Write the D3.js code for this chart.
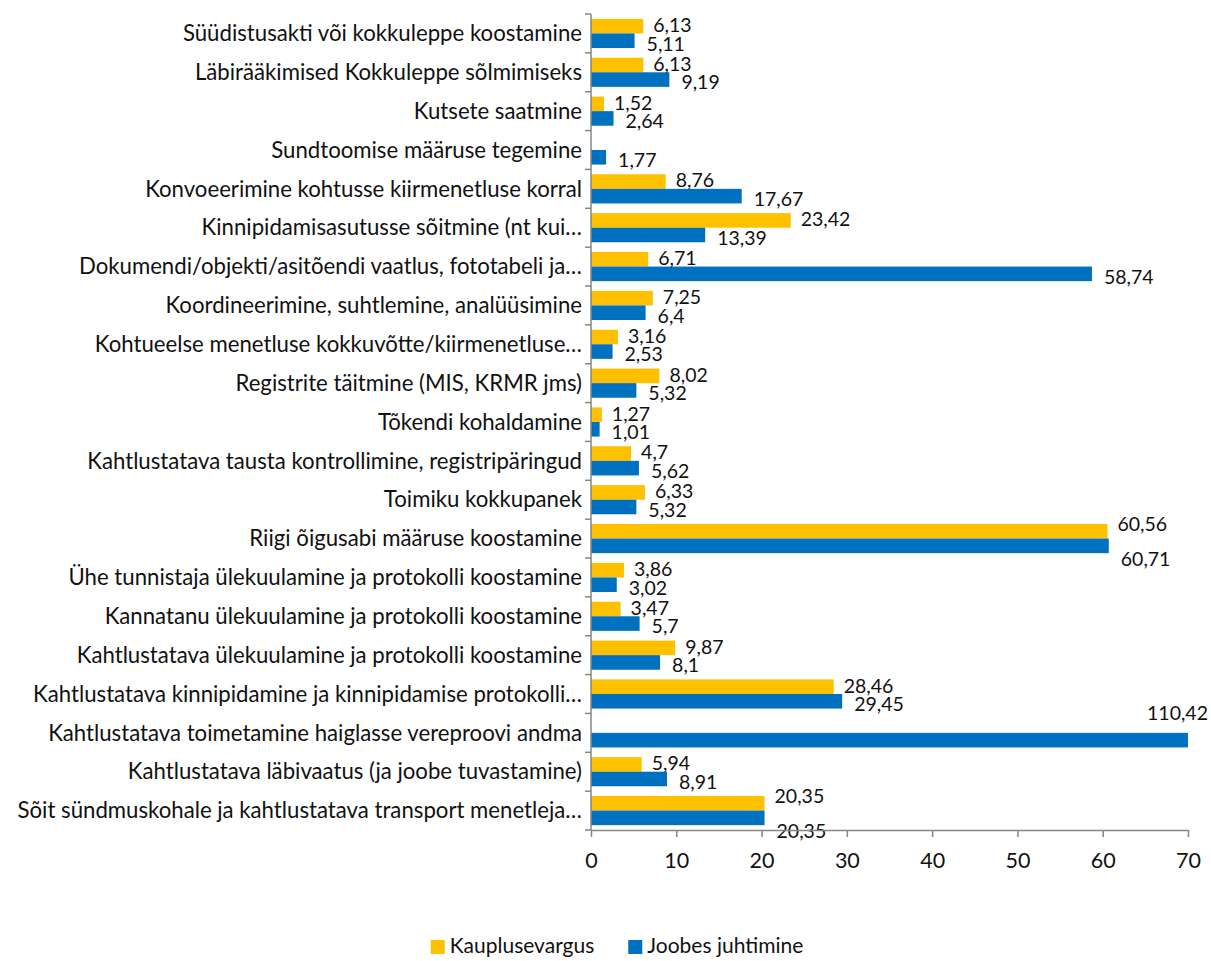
<!DOCTYPE html>
<html>
<head>
<meta charset="utf-8">
<script src="https://cdn.jsdelivr.net/npm/d3@7"></script>
<style>
  body { margin: 0; background: #fff; }
  svg { font-family: "Lato", "Open Sans", sans-serif; }
</style>
</head>
<body>
<div id="chart"></div>
<script>
// categories top to bottom
var categories = [
  "Süüdistusakti või kokkuleppe koostamine",
  "Läbirääkimised Kokkuleppe sõlmimiseks",
  "Kutsete saatmine",
  "Sundtoomise määruse tegemine",
  "Konvoeerimine kohtusse kiirmenetluse korral",
  "Kinnipidamisasutusse sõitmine (nt kui…",
  "Dokumendi/objekti/asitõendi vaatlus, fototabeli ja…",
  "Koordineerimine, suhtlemine, analüüsimine",
  "Kohtueelse menetluse kokkuvõtte/kiirmenetluse…",
  "Registrite täitmine (MIS, KRMR jms)",
  "Tõkendi kohaldamine",
  "Kahtlustatava tausta kontrollimine, registripäringud",
  "Toimiku kokkupanek",
  "Riigi õigusabi määruse koostamine",
  "Ühe tunnistaja ülekuulamine ja protokolli koostamine",
  "Kannatanu ülekuulamine ja protokolli koostamine",
  "Kahtlustatava ülekuulamine ja protokolli koostamine",
  "Kahtlustatava kinnipidamine ja kinnipidamise protokolli…",
  "Kahtlustatava toimetamine haiglasse vereproovi andma",
  "Kahtlustatava läbivaatus (ja joobe tuvastamine)",
  "Sõit sündmuskohale ja kahtlustatava transport menetleja…"
];
var kauplusevargus = [6.13, 6.13, 1.52, null, 8.76, 23.42, 6.71, 7.25, 3.16, 8.02, 1.27, 4.7, 6.33, 60.56, 3.86, 3.47, 9.87, 28.46, null, 5.94, 20.35];
var joobes = [5.11, 9.19, 2.64, 1.77, 17.67, 13.39, 58.74, 6.4, 2.53, 5.32, 1.01, 5.62, 5.32, 60.71, 3.02, 5.7, 8.1, 29.45, 110.42, 8.91, 20.35];
var seriesNames = ["Kauplusevargus", "Joobes juhtimine"];
var colors = ["#FFC000", "#0070C0"];
var xTicks = [0, 10, 20, 30, 40, 50, 60, 70];

var W = 1211, H = 961;
var plotLeft = 591, plotRight = 1188, plotTop = 14, plotBottom = 830;
var axisColor = "#868686", textColor = "#111";

var svg = d3.select("#chart").append("svg").attr("width", W).attr("height", H);

var x = d3.scaleLinear().domain([0, 70]).range([plotLeft, plotRight]);
var y = d3.scaleBand().domain(categories).range([plotTop, plotBottom]).paddingInner(0.25).paddingOuter(0.125);
var ySub = d3.scaleBand().domain([0, 1]).range([0, y.bandwidth()]);
var band = y.step();

var rows = [];
categories.forEach(function(c, i) {
  var pair = [kauplusevargus[i], joobes[i]];
  pair.forEach(function(v, s) {
    if (v !== null) rows.push({cat: c, s: s, v: v, other: pair[1 - s]});
  });
});

svg.append("defs").append("clipPath").attr("id", "plot")
  .append("rect").attr("x", plotLeft).attr("y", plotTop).attr("width", plotRight - plotLeft).attr("height", plotBottom - plotTop);

svg.append("g").attr("clip-path", "url(#plot)")
  .selectAll("rect").data(rows).enter().append("rect")
  .attr("x", x(0))
  .attr("y", function(d) { return y(d.cat) + ySub(d.s); })
  .attr("width", function(d) { return x(Math.min(d.v, 72)) - x(0); })
  .attr("height", ySub.bandwidth())
  .attr("fill", function(d) { return colors[d.s]; });

// value labels (comma decimals); clipped bar gets its label at the right edge,
// near-equal pairs are pushed apart like Excel does
svg.append("g").selectAll("text").data(rows).enter().append("text")
  .attr("x", function(d) {
    if (d.v > 70) return W - 3;
    return x(d.v) + (d.s === 0 ? 10 : 12);
  })
  .attr("y", function(d) {
    var c = y(d.cat) + ySub(d.s) + ySub.bandwidth() / 2;
    if (d.v > 70) return y(d.cat) - 5;
    var close = d.other !== null && Math.abs(d.other - d.v) < 0.2;
    if (d.s === 0) return close ? c - 7 : c - 1;
    return close ? c + 13 : c + 3;
  })
  .attr("dy", "0.35em")
  .attr("text-anchor", function(d) { return d.v > 70 ? "end" : "start"; })
  .attr("font-size", 19.5)
  .attr("fill", textColor)
  .text(function(d) { return String(d.v).replace(".", ","); });

// y axis
var yAxis = svg.append("g");
yAxis.append("line").attr("x1", plotLeft).attr("x2", plotLeft).attr("y1", plotTop).attr("y2", plotBottom)
  .attr("stroke", axisColor).attr("stroke-width", 1.5);
yAxis.selectAll("line.tick").data(d3.range(categories.length + 1)).enter().append("line")
  .attr("class", "tick")
  .attr("x1", plotLeft - 6).attr("x2", plotLeft)
  .attr("y1", function(i) { return plotTop + i * band; })
  .attr("y2", function(i) { return plotTop + i * band; })
  .attr("stroke", axisColor).attr("stroke-width", 1.5);
yAxis.selectAll("text.cat").data(categories).enter().append("text")
  .attr("class", "cat")
  .attr("x", plotLeft - 9)
  .attr("y", function(d) { return y(d) + y.bandwidth() / 2; })
  .attr("dy", "0.35em")
  .attr("text-anchor", "end")
  .attr("font-size", 22.2)
  .attr("fill", textColor)
  .text(function(d) { return d; });

// x axis
var xAxis = svg.append("g").attr("transform", "translate(0," + plotBottom + ")")
  .call(d3.axisBottom(x).tickValues(xTicks).tickSize(7).tickPadding(16).tickSizeOuter(0));
xAxis.select(".domain").attr("stroke", axisColor).attr("stroke-width", 1.5);
xAxis.selectAll(".tick line").attr("stroke", axisColor).attr("stroke-width", 1.5);
xAxis.selectAll(".tick text").attr("font-size", 21.5).attr("fill", textColor)
  .attr("font-family", "Lato, 'Open Sans', sans-serif");

// legend, centred under the chart
var legend = svg.append("g");
var items = legend.selectAll("g").data(seriesNames).enter().append("g");
items.append("rect").attr("width", 14).attr("height", 14).attr("y", -6)
  .attr("fill", function(d, i) { return colors[i]; });
items.append("text").attr("x", 19).attr("dy", "0.35em")
  .attr("font-size", 21).attr("fill", textColor).text(function(d) { return d; });
var pos = 0, offsets = [];
items.each(function() {
  offsets.push(pos);
  pos += 19 + d3.select(this).select("text").node().getComputedTextLength() + 34;
});
items.attr("transform", function(d, i) { return "translate(" + offsets[i] + ",0)"; });
var totalW = pos - 34;
legend.attr("transform", "translate(" + (617 - totalW / 2) + ",946)");
</script>
</body>
</html>
